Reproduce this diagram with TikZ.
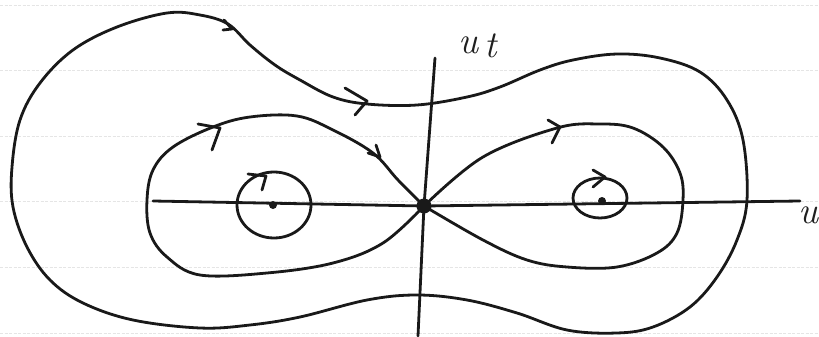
\documentclass[tikz,border=0pt]{standalone}
\usepackage{fontspec}
\setmainfont{Latin Modern Roman}
\usetikzlibrary{arrows.meta}
\tikzset{
  ink/.style={black!90, line width=2.8pt, line cap=round, line join=round},
  orbit/.style={ink},
  axisline/.style={ink},
  barb/.style={ink},
  paperrule/.style={gray!20, line width=0.7pt, dash pattern=on 3pt off 1.5pt},
  lbl/.style={font=\fontsize{38}{40}\selectfont\itshape, inner sep=0pt, text=black!88},
  eqpt/.style={circle, fill=black!90, inner sep=0pt},
}
\begin{document}
\begin{tikzpicture}[x=1pt,y=-1pt]
\useasboundingbox (0,0) rectangle (819,337);
\fill[white] (0,0) rectangle (819,337);
% faint ruled lines of the paper
\foreach \yy in {5,70,136,201,267,333} \draw[paperrule] (0,\yy) -- (819,\yy);

% equilibria
\node[eqpt, minimum size=15pt] (saddle) at (424,206) {};
\node[eqpt, minimum size=8pt] (cl) at (273,205) {};
\node[eqpt, minimum size=8pt] (cr) at (602,201) {};

% axes
\coordinate (xl) at (153,201);
\coordinate (xr) at (800,201);
\coordinate (yt) at (435,58);
\coordinate (yb) at (418,336);
\draw[axisline] (xl) -- (saddle.center) -- (xr);
\draw[axisline] (yt) -- (saddle.center) -- (yb);

% labels
\node[lbl] (ut) at (478,46) {u\,\raisebox{-4pt}{t}};
\node[lbl, anchor=east] (ux) at (819,215) {u};

% small closed orbits around the centres
\draw[orbit] (274,205) ellipse [x radius=37pt, y radius=33pt];
\draw[orbit] (600,198) ellipse [x radius=27pt, y radius=20pt];

% left homoclinic loop
\draw[orbit] plot[smooth, tension=0.6] coordinates {
  (424,206) (398,180) (373,153) (333,130) (297,116) (250,117) (213,127)
  (173,147) (153,170) (147,200) (150,233) (167,257) (200,275) (267,273)
  (333,263) (383,243) (424,206)};

% right homoclinic loop
\draw[orbit] plot[smooth, tension=0.6] coordinates {
  (424,206) (483,157) (557,128) (600,124) (633,128) (663,147) (680,173)
  (683,200) (677,233) (657,253) (617,267) (567,267) (527,260) (483,240)
  (424,206)};

% outer periodic orbit
\draw[orbit] plot[smooth cycle, tension=0.6] coordinates {
  (417,105) (467,97) (500,87) (540,70) (573,60) (617,54) (660,58) (700,72)
  (727,100) (743,140) (747,200) (737,240) (717,277) (690,307) (653,327)
  (617,333) (567,330) (517,313) (467,300) (417,295) (367,300) (300,317)
  (250,325) (200,328) (133,320) (83,303) (50,280) (27,247) (13,207)
  (12,167) (20,120) (40,83) (73,50) (117,27) (167,13) (200,15) (228,24)
  (250,45) (275,65) (300,80) (333,97) (367,104)};

% arrowheads (open barbs)
\draw[barb] (224,20) -- (232,29) -- (223,30);
\draw[barb] (345,88) -- (367,101) -- (355,115);
\draw[barb] (198,124) -- (220,128) -- (212,150);
\draw[barb] (376,145) -- (380,157) -- (368,153);
\draw[barb] (548,120) -- (560,127) -- (552,143);
\draw[barb] (248,174) -- (266,176) -- (262,190);
\draw[barb] (593,170) -- (605,177) -- (593,187);
\end{tikzpicture}
\end{document}
